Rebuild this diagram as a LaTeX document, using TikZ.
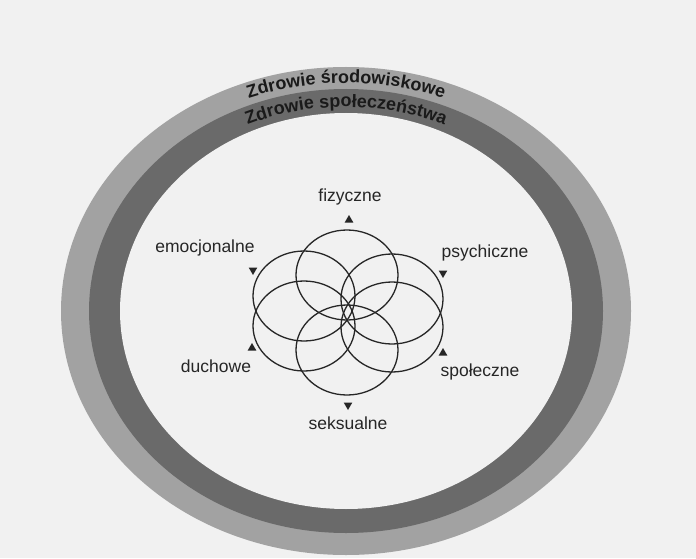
\documentclass[tikz,border=0pt]{standalone}
\usepackage{fontspec}
\setmainfont{Liberation Sans}
\usetikzlibrary{shapes.geometric,decorations.text}
\definecolor{paper}{HTML}{F1F1F1}
\definecolor{bandlight}{HTML}{A2A2A2}
\definecolor{banddark}{HTML}{6A6A6A}
\definecolor{ink}{HTML}{262626}
\definecolor{ringink}{HTML}{1A1A1A}
\newcommand{\ringfnt}{\fontsize{18}{20}\selectfont\bfseries\color{ringink}}
\begin{document}
\begin{tikzpicture}[x=1pt,y=1pt,
  petal/.style={ellipse, draw=ink, line width=1.3pt, minimum width=102pt, minimum height=90pt, inner sep=0pt},
  lbl/.style={font=\fontsize{17.5}{20}\selectfont, text=ink, inner sep=0pt},
  triup/.style={regular polygon, regular polygon sides=3, fill=ink, inner sep=0pt, minimum size=10pt},
  tridown/.style={triup, shape border rotate=180},
]
\fill[paper] (0,0) rectangle (696,558);
\useasboundingbox (0,0) rectangle (696,558);
\coordinate (C) at (346,247);
\fill[bandlight] (C) ellipse [x radius=285, y radius=244];
\fill[banddark] (C) ellipse [x radius=257, y radius=222];
\fill[paper] (C) ellipse [x radius=226, y radius=198];

% ring texts
\path[decorate, decoration={text along path, text={|\ringfnt|Zdrowie środowiskowe}, text align=center}]
  (C) ++(180:272 and 228) arc [start angle=180, end angle=0, x radius=272, y radius=228];
\path[decorate, decoration={text along path, text={|\ringfnt|Zdrowie społeczeństwa}, text align=center}]
  (C) ++(180:240 and 204) arc [start angle=180, end angle=0, x radius=240, y radius=204];

% petals
\node[petal] (pt) at (347,283) {};
\node[petal] (pb) at (347,208) {};
\node[petal] (plu) at (304,262) {};
\node[petal] (pld) at (304,232) {};
\node[petal] (pru) at (392,259) {};
\node[petal] (prd) at (392,231) {};

% markers and labels
\node[triup] (tf) at (349,338) {};
\node[lbl] (lf) at (350,361) {fizyczne};
\node[tridown] (te) at (253,288) {};
\node[lbl] (le) at (205,310) {emocjonalne};
\node[tridown] (tp) at (443,285) {};
\node[lbl] (lp) at (485,305) {psychiczne};
\node[triup] (td) at (252,210) {};
\node[lbl] (ld) at (216,192) {duchowe};
\node[triup] (ts) at (443,205) {};
\node[lbl] (ls) at (480,186) {społeczne};
\node[tridown] (tk) at (348,153) {};
\node[lbl] (lk) at (348,135) {seksualne};
\end{tikzpicture}
\end{document}
